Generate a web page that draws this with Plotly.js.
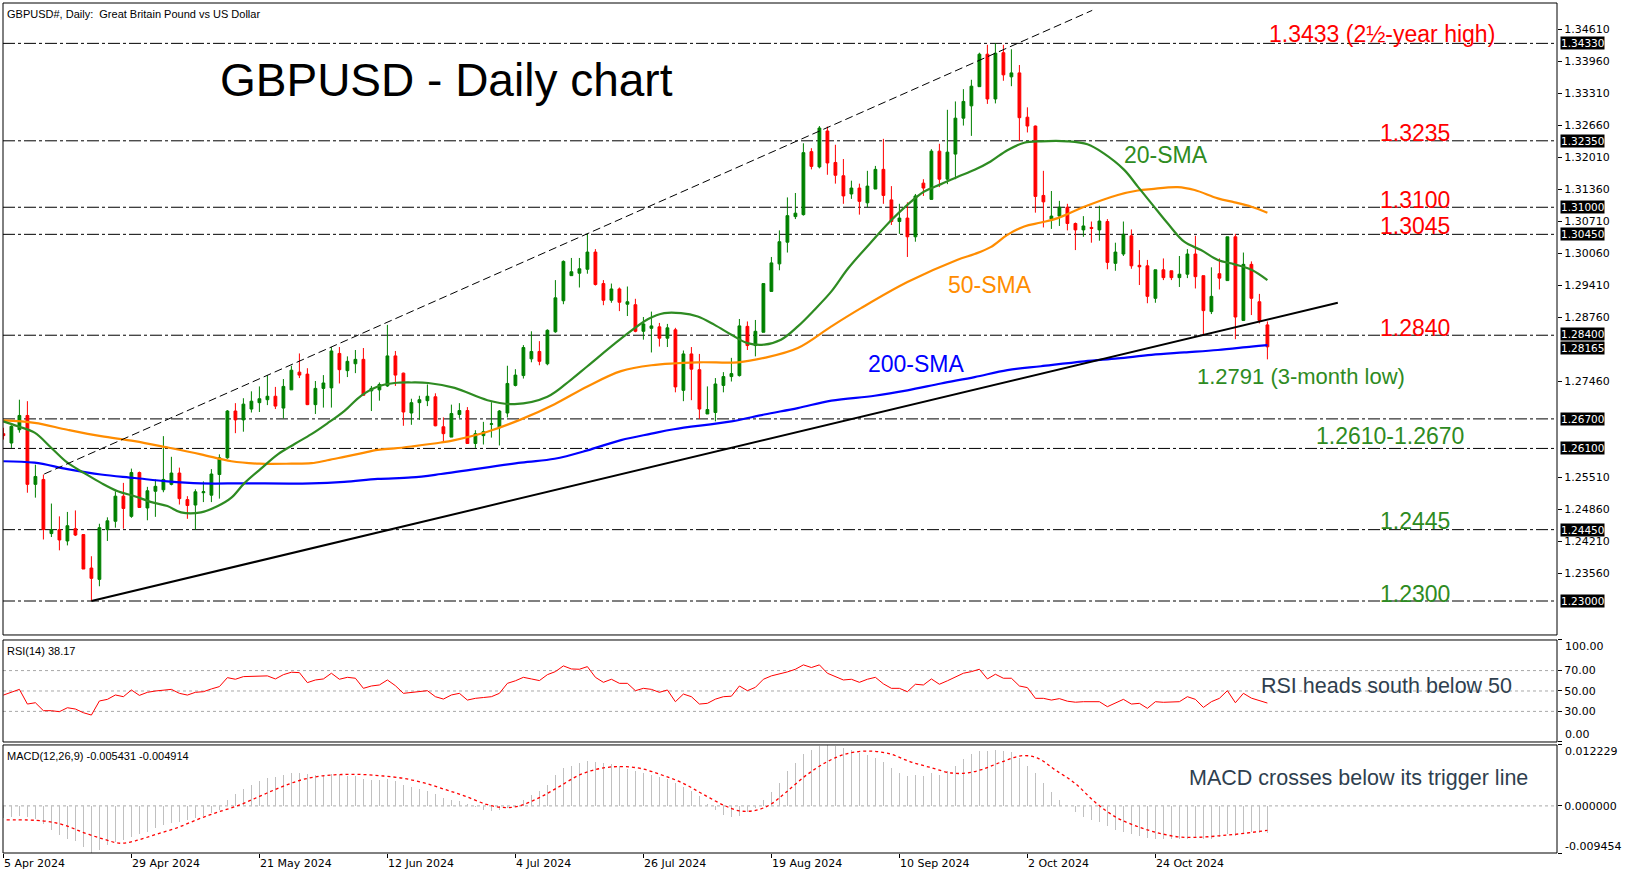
<!DOCTYPE html>
<html>
<head>
<meta charset="utf-8">
<script src="https://cdn.plot.ly/plotly-3.0.1.min.js"></script>
<style>
body { margin: 0; background: #fff; }
#chart { width: 1625px; height: 877px; }
</style>
</head>
<body>
<div id="chart"></div>
<script>
// GBPUSD daily bars, bar 0 = 5 Apr 2024, last bar = 13 Nov 2024
let open = [1.2640,1.2621,1.2648,1.2677,1.2537,1.2547,1.2437,1.2445,1.2422,1.2447,
1.2435,1.2367,1.2344,1.2445,1.2462,1.2513,1.2472,1.2561,1.2489,1.2523,
1.2526,1.2537,1.2560,1.2506,1.2495,1.2520,1.2515,1.2557,1.2591,1.2686,
1.2668,1.2690,1.2703,1.2709,1.2716,1.2692,1.2729,1.2765,1.2761,1.2699,
1.2732,1.2733,1.2803,1.2768,1.2782,1.2791,1.2727,1.2729,1.2737,1.2798,
1.2763,1.2682,1.2703,1.2707,1.2715,1.2654,1.2633,1.2679,1.2687,1.2620,
1.2636,1.2659,1.2652,1.2682,1.2738,1.2758,1.2792,1.2807,1.2782,1.2847,
1.2910,1.2961,1.2966,1.2974,1.3009,1.2945,1.2911,1.2934,1.2903,1.2902,
1.2848,1.2854,1.2857,1.2834,1.2851,1.2728,1.2802,1.2770,1.2680,1.2683,
1.2738,1.2756,1.2758,1.2858,1.2819,1.2846,1.2929,1.2985,1.3029,1.3081,
1.3085,1.3213,1.3182,1.3255,1.3191,1.3164,1.3127,1.3139,1.3109,1.3137,
1.3177,1.3115,1.3071,1.3078,1.3040,1.3149,1.3116,1.3214,1.3157,1.3208,
1.3281,1.3306,1.3345,1.3411,1.3320,1.3414,1.3365,1.3373,1.3283,1.3265,
1.3124,1.3076,1.3082,1.3100,1.3067,1.3054,1.3059,1.3054,1.3071,1.2986,
1.3005,1.3042,1.2982,1.2981,1.2915,1.2973,1.2971,1.2957,1.2964,1.3005,
1.2961,1.2888,1.2965,1.2951,1.3040,1.2870,1.2984,1.2908,1.2861]
let high = [1.2652,1.2657,1.2709,1.2706,1.2577,1.2557,1.2498,1.2472,1.2481,1.2484,
1.2436,1.2391,1.2457,1.2470,1.2523,1.2540,1.2569,1.2563,1.2532,1.2547,
1.2635,1.2593,1.2571,1.2513,1.2527,1.2543,1.2568,1.2598,1.2688,1.2702,
1.2712,1.2726,1.2736,1.2759,1.2735,1.2751,1.2778,1.2803,1.2773,1.2747,
1.2759,1.2816,1.2816,1.2797,1.2810,1.2814,1.2737,1.2744,1.2861,1.2808,
1.2764,1.2711,1.2717,1.2740,1.2722,1.2673,1.2699,1.2702,1.2694,1.2647,
1.2664,1.2704,1.2688,1.2778,1.2771,1.2820,1.2848,1.2828,1.2852,1.2952,
1.2992,1.2997,1.2997,1.3046,1.3015,1.2952,1.2945,1.2937,1.2939,1.2914,
1.2877,1.2888,1.2865,1.2863,1.2855,1.2809,1.2816,1.2802,1.2736,1.2753,
1.2765,1.2794,1.2873,1.2868,1.2871,1.2945,1.2999,1.3053,1.3120,1.3129,
1.3230,1.3220,1.3265,1.3264,1.3227,1.3198,1.3154,1.3148,1.3174,1.3184,
1.3239,1.3143,1.3107,1.3110,1.3127,1.3157,1.3218,1.3229,1.3298,1.3315,
1.3340,1.3359,1.3414,1.3430,1.3433,1.3430,1.3421,1.3389,1.3303,1.3266,
1.3174,1.3133,1.3113,1.3107,1.3069,1.3082,1.3071,1.3103,1.3076,1.3028,
1.3071,1.3055,1.3013,1.2993,1.2973,1.2996,1.2971,1.3001,1.3015,1.3042,
1.2961,1.2978,1.2996,1.3040,1.3046,1.3008,1.2990,1.2924,1.2868]
let low = [1.2628,1.2611,1.2642,1.2520,1.2510,1.2425,1.2430,1.2403,1.2413,1.2432,
1.2365,1.2300,1.2330,1.2422,1.2449,1.2447,1.2469,1.2490,1.2464,1.2471,
1.2521,1.2535,1.2496,1.2467,1.2445,1.2501,1.2501,1.2508,1.2589,1.2641,
1.2644,1.2683,1.2684,1.2698,1.2690,1.2671,1.2729,1.2753,1.2698,1.2680,
1.2693,1.2693,1.2742,1.2755,1.2763,1.2718,1.2686,1.2707,1.2735,1.2737,
1.2656,1.2658,1.2668,1.2696,1.2655,1.2623,1.2633,1.2672,1.2620,1.2611,
1.2618,1.2632,1.2616,1.2673,1.2736,1.2752,1.2785,1.2779,1.2779,1.2845,
1.2903,1.2961,1.2937,1.2965,1.2941,1.2901,1.2906,1.2889,1.2879,1.2846,
1.2831,1.2805,1.2817,1.2816,1.2724,1.2706,1.2708,1.2670,1.2680,1.2665,
1.2724,1.2746,1.2756,1.2810,1.2797,1.2846,1.2929,1.2972,1.3008,1.3076,
1.3083,1.3177,1.3179,1.3166,1.3148,1.3107,1.3117,1.3085,1.3100,1.3137,
1.3107,1.3064,1.3046,1.2999,1.3030,1.3123,1.3116,1.3141,1.3147,1.3157,
1.3266,1.3245,1.3345,1.3310,1.3311,1.3357,1.3346,1.3235,1.3252,1.3089,
1.3059,1.3056,1.3062,1.3053,1.3013,1.3040,1.3028,1.3032,1.2974,1.2971,
1.3001,1.2975,1.2942,1.2905,1.2906,1.2952,1.2952,1.2938,1.2956,1.2935,
1.2841,1.2883,1.2933,1.2951,1.2832,1.2870,1.2881,1.2864,1.2791]
let close = [1.2636,1.2655,1.2677,1.2537,1.2553,1.2445,1.2445,1.2424,1.2453,1.2434,
1.2365,1.2346,1.2449,1.2463,1.2513,1.2488,1.2561,1.2490,1.2524,1.2533,
1.2547,1.2560,1.2508,1.2494,1.2522,1.2522,1.2558,1.2591,1.2686,1.2668,
1.2700,1.2706,1.2711,1.2716,1.2696,1.2736,1.2769,1.2759,1.2699,1.2732,
1.2743,1.2808,1.2770,1.2787,1.2791,1.2718,1.2732,1.2740,1.2798,1.2759,
1.2684,1.2703,1.2709,1.2716,1.2656,1.2640,1.2681,1.2687,1.2620,1.2640,
1.2644,1.2660,1.2686,1.2742,1.2759,1.2815,1.2807,1.2787,1.2850,1.2916,
1.2990,1.2969,1.2975,1.3009,1.2943,1.2911,1.2934,1.2907,1.2908,1.2848,
1.2863,1.2859,1.2834,1.2855,1.2735,1.2802,1.2771,1.2690,1.2689,1.2741,
1.2756,1.2762,1.2859,1.2819,1.2848,1.2945,1.2987,1.3030,1.3083,1.3088,
1.3211,1.3183,1.3261,1.3190,1.3165,1.3123,1.3139,1.3112,1.3143,1.3177,
1.3124,1.3071,1.3078,1.3040,1.3123,1.3139,1.3214,1.3157,1.3212,1.3281,
1.3315,1.3346,1.3411,1.3320,1.3413,1.3369,1.3373,1.3282,1.3265,1.3122,
1.3111,1.3082,1.3100,1.3067,1.3054,1.3062,1.3057,1.3072,1.2988,1.3009,
1.3045,1.2981,1.2979,1.2919,1.2973,1.2957,1.2957,1.2964,1.3005,1.2959,
1.2890,1.2919,1.2956,1.3040,1.2877,1.2984,1.2915,1.2870,1.28165]

// moving averages at these bar positions
let sma20Bars = [0,1.8,3.9,6,8,10.1,12.2,14.3,16.4,18.5,20.5,22.2,24.7,26.8,28.5,30.1,32.2,34.3,36.4,38.5,40.5,42.6,44.7,46.8,48.9,51,53.1,56.4,60.5,63.9,68,70.9,73,77.2,80.6,82.6,84.7,86.8,88.9,91,93,95.1,97.2,99.3,101.4,103.5,105.6,108.9,111,113,115.1,117.2,119.3,121.4,123.4,125.5,127.6,129.7,133,135.5,137.5,140.1,141.8,143.5,145.5,147.6,149.7,151.8,153.9,156,158]
let sma20 = [1.2665,1.2655,1.2642,1.2611,1.2581,1.2560,1.2540,1.2523,1.2513,1.2501,1.2493,1.2480,1.2480,1.2493,1.2510,1.2539,1.2569,1.2598,1.2619,1.2639,1.2661,1.2686,1.2717,1.2736,1.2743,1.2744,1.2743,1.2733,1.2708,1.2700,1.2715,1.2749,1.2777,1.2833,1.2873,1.2885,1.2885,1.2878,1.2861,1.2841,1.2824,1.2821,1.2831,1.2858,1.2892,1.2929,1.2976,1.3037,1.3074,1.3105,1.3132,1.3147,1.3162,1.3176,1.3193,1.3216,1.3231,1.3234,1.3234,1.3228,1.3210,1.3176,1.3142,1.3108,1.3068,1.3030,1.3013,1.2993,1.2984,1.2973,1.2952]
let sma50Bars = [0,3.9,8,12.2,16.4,20.5,24.7,28.5,32,36,38.5,40.5,42.6,44.7,46.8,48.9,51,54.7,56.4,60.5,64.7,68.9,73,77.2,81,86.8,91.8,95.1,99.3,103.5,107.2,113,119.2,121.4,123.4,125.5,127.6,129.7,131.8,135.1,139.3,141.8,143.5,146.8,148.9,151.8,153.9,156,158]
let sma50 = [1.2667,1.2662,1.2648,1.2635,1.2625,1.2612,1.2598,1.2584,1.2579,1.2579,1.2580,1.2586,1.2593,1.2600,1.2607,1.2610,1.2614,1.2622,1.2627,1.2644,1.2669,1.2700,1.2736,1.2767,1.2779,1.2785,1.2785,1.2794,1.2814,1.2858,1.2895,1.2948,1.2993,1.3005,1.3019,1.3044,1.3061,1.3069,1.3078,1.3101,1.3125,1.3134,1.3137,1.3141,1.3135,1.3118,1.3110,1.3101,1.3089]
let sma200Bars = [0,3.9,8,12.2,16.4,20.5,24.7,30,38.5,42.6,46.8,51,54.7,64.7,68.9,73,77.2,81,83.8,91,95.1,99.3,103.5,108.9,113,117.2,121.4,125.5,129.7,135.1,139.3,143.5,147.6,151.8,156,158]
let sma200 = [1.2584,1.2581,1.2568,1.2557,1.2550,1.2543,1.2539,1.2539,1.2539,1.2542,1.2548,1.2551,1.2558,1.2581,1.2589,1.2606,1.2627,1.2640,1.2649,1.2665,1.2679,1.2692,1.2707,1.2717,1.2728,1.2742,1.2755,1.2769,1.2777,1.2787,1.2793,1.2800,1.2805,1.2810,1.2817,1.2820]

// RSI(14), one value per bar
let rsi = [46,49,51.6,37.2,38.5,30.7,30.7,29.7,33.6,32.3,
28.7,26.4,40.2,41.8,46.1,44.4,51,45.7,48.7,50,
50.8,51.6,47.7,46,48.7,49.3,52,54.3,63.1,61.5,
64.1,64.3,64.5,64.8,61.8,66,68.4,68,58.2,60.8,
61.8,67.4,61.5,63.4,62.5,52.6,54.9,55.9,60.8,55.2,
47.7,48.5,49.3,50.3,44.4,42.1,46.1,47.7,41.1,42.8,
43.6,44.4,47.7,57.5,60,63.4,61.8,60.2,66,69,
74.6,71.6,71.3,73.9,63.4,58.5,61.5,57.5,57.5,50.3,
52.6,51.6,48.7,51,39.5,47,44.4,37.2,37.9,42,
44.4,44.9,54.9,50.3,53.6,61.5,64.8,66.5,68.7,71.3,
75.6,73,75.6,67.4,64.1,60.8,61.5,58.5,61.5,63.4,
57,52.6,52.6,49.3,56.6,55.9,61.8,56.6,60,64.1,
67.4,69,71.3,61.8,66.4,62.5,62.5,54.9,53.3,42.8,
42.8,41.1,42.5,40,39,39.5,39.3,39.5,34.6,37.9,
41.8,37.2,37.9,33,39.5,38.9,38.9,39.5,44.4,41.8,
33.9,39.5,42.8,50.3,38.5,47.7,43,40.5,38.17]

// MACD(12,26,9) main line (histogram), in thousandths
let macdHist = [-2.4,-2.3,-2.0,-2.3,-2.6,-3.6,-4.9,-5.9,-6.6,-7.1,
-8.2,-9.454,-8.9,-7.9,-7.3,-6.9,-6.2,-5.7,-5.2,-4.4,
-3.8,-3.4,-3.2,-2.9,-2.4,-2.0,-1.5,-0.9,1.1,2.3,
3.4,4.2,5.0,5.5,5.8,6.2,6.6,6.6,6.4,6.3,
6.2,6.4,6.2,6.0,5.9,5.4,5.2,5.1,5.4,5.0,
4.2,3.8,3.4,3.0,2.4,1.6,1.2,0.9,0.3,-0.2,
-0.9,-1.0,-0.9,-0.5,0.1,1.1,2.1,3.0,4.2,6.2,
7.6,8.1,8.7,9.0,8.9,8.7,8.4,8.0,7.5,7.0,
6.6,6.3,5.8,5.4,4.5,3.8,3.0,1.9,0.3,-0.9,
-1.8,-2.3,-2.0,-1.3,-0.5,1.1,2.7,4.6,7.0,8.7,
10.5,11.2,12.0,12.229,12.0,11.6,11.2,10.7,10.2,9.7,
8.9,7.7,6.6,6.0,6.2,6.0,6.6,6.3,7.1,8.1,
9.5,10.5,11.1,11.0,11.2,11.0,10.9,9.7,8.1,6.6,
4.6,2.7,1.1,-0.1,-1.25,-2.3,-2.8,-3.2,-4.1,-4.8,
-5.2,-5.7,-6.1,-6.5,-6.6,-6.6,-6.7,-6.7,-6.6,-6.5,
-6.7,-6.6,-6.2,-5.7,-6.0,-5.4,-5.2,-5.4,-5.431]
let signalBars = [0.4,4.9,7.5,10.1,12.6,14.6,16.5,19.1,21.7,24.3,26.8,29.4,32,34.6,37.2,39.7,42.3,44.9,47.5,50.1,52.6,55.2,57.8,60.4,62.3,64.3,66.8,69.4,72,74.6,77.2,79.7,82.3,84.9,87.5,90.1,92,94,95.9,97.8,100.4,103,105.5,108.1,110.7,113.3,115.9,118.5,120.4,122.3,124.9,127.5,129.4,131.4,133.9,136.5,139.1,141.7,144.3,146.8,149.4,152,154.6,158]
let signal = [-2.8,-3.0,-3.8,-5.4,-6.7,-7.5,-7.0,-5.7,-4.4,-2.7,-1.25,0.1,1.9,3.7,5.2,6.0,6.3,6.3,6.0,5.5,4.6,3.3,1.9,0.3,-0.3,-0.1,1.5,3.8,6.2,7.5,7.9,7.5,6.2,4.6,2.3,0.1,-1.0,-0.9,0.3,2.7,6.2,8.9,10.5,11.0,10.5,8.9,7.7,6.6,6.6,7.3,8.9,10.1,9.5,7.3,4.6,0.7,-2.3,-4.1,-5.4,-6.2,-6.3,-6.0,-5.6,-4.914]

let levels = [1.3433, 1.3235, 1.3100, 1.3045, 1.2840, 1.2670, 1.2610, 1.2445, 1.2300]
let lastPrice = 1.28165
// scale labels that are not hidden behind the black level boxes
let priceTicks = [1.3461,1.3396,1.3331,1.3266,1.3201,1.3136,1.3071,1.3006,1.2941,1.2876,1.2746,1.2551,1.2486,1.2421,1.2356]
let rsiTicks = [0, 30, 50, 70, 100]
let macdTicks = [-0.009454, 0, 0.012229]
let dateBars = [0,16,32,48,64,80,96,112,128,144]
let dateLabels = ['5 Apr 2024','29 Apr 2024','21 May 2024','12 Jun 2024','4 Jul 2024','26 Jul 2024','19 Aug 2024','10 Sep 2024','2 Oct 2024','24 Oct 2024']

let bars = close.map((c, i) => i)
let tickFont = {family: 'DejaVu Sans', size: 11, color: '#000'}
let textFont = 'Liberation Sans, Arial, sans-serif'

let data = [
    {type: 'candlestick', x: bars, open: open, high: high, low: low, close: close,
     xaxis: 'x', yaxis: 'y', whiskerwidth: 0, hoverinfo: 'skip',
     increasing: {line: {color: '#008000', width: 1}, fillcolor: '#008000'},
     decreasing: {line: {color: '#FF0000', width: 1}, fillcolor: '#FF0000'}},
    {type: 'scatter', mode: 'lines', x: sma200Bars, y: sma200, yaxis: 'y',
     line: {color: '#0000FF', width: 2.2, shape: 'spline'}},
    {type: 'scatter', mode: 'lines', x: sma50Bars, y: sma50, yaxis: 'y',
     line: {color: '#FF8C00', width: 2.2, shape: 'spline'}},
    {type: 'scatter', mode: 'lines', x: sma20Bars, y: sma20, yaxis: 'y',
     line: {color: '#2E8B22', width: 2.2, shape: 'spline'}},
    {type: 'scatter', mode: 'lines', x: bars, y: rsi, yaxis: 'y2',
     line: {color: '#FF0000', width: 1}},
    {type: 'bar', x: bars, y: macdHist.map(v => v / 1000), yaxis: 'y3', width: 0.14,
     marker: {color: '#C0C0C0', line: {width: 0}}},
    {type: 'scatter', mode: 'lines', x: signalBars, y: signal.map(v => v / 1000), yaxis: 'y3',
     line: {color: '#FF0000', width: 1.3, dash: 'dot', shape: 'spline'}}
]

let shapes = []
// panel frames
let frames = [[0.2565, 1], [0.1306, 0.2506], [0, 0.1271]]
frames.forEach(f => {
    shapes.push({type: 'rect', xref: 'paper', yref: 'paper', x0: 0, x1: 1, y0: f[0], y1: f[1],
        line: {color: '#000', width: 1}, layer: 'above'})
})
levels.forEach(l => {
    shapes.push({type: 'line', xref: 'paper', yref: 'y', x0: 0, x1: 1, y0: l, y1: l,
        line: {color: '#000', width: 1, dash: '12px,3px,3px,3px'}, layer: 'below'})
})
// support trendline and upper channel line
shapes.push({type: 'line', xref: 'x', yref: 'y', x0: 11, y0: 1.2300, x1: 166.8, y1: 1.2906,
    line: {color: '#000', width: 2}})
shapes.push({type: 'line', xref: 'x', yref: 'y', x0: 5.1, y0: 1.2558, x1: 136.1, y1: 1.3500,
    line: {color: '#000', width: 1, dash: '8px,4px'}})
;[30, 50, 70].forEach(l => {
    shapes.push({type: 'line', xref: 'paper', yref: 'y2', x0: 0, x1: 1, y0: l, y1: l,
        line: {color: '#A8A8A8', width: 1, dash: 'dot'}, layer: 'below'})
})
shapes.push({type: 'line', xref: 'paper', yref: 'y3', x0: 0, x1: 1, y0: 0, y1: 0,
    line: {color: '#A8A8A8', width: 1, dash: 'dot'}, layer: 'below'})

let annotations = []
// black price boxes on the right axis (1.28165 is drawn last, over 1.28400)
levels.concat([lastPrice]).forEach(l => {
    annotations.push({xref: 'paper', yref: 'y', x: 1, y: l, xanchor: 'left', xshift: 3,
        yshift: l === lastPrice ? -1 : (l === 1.284 ? 1 : 0),
        text: l.toFixed(5), showarrow: false, bgcolor: '#000', borderpad: 0,
        font: {family: 'DejaVu Sans', size: 10.5, color: '#fff'}})
})

// end labels of the indicator scales sit just inside their panels
function edgeLabel(text, yref, y, shift) {
    annotations.push({xref: 'paper', yref: yref, x: 1, y: y, xanchor: 'left', yanchor: 'middle',
        xshift: 6, yshift: shift, text: text, showarrow: false, font: tickFont})
}
edgeLabel('100.00', 'y2', 100, -7)
edgeLabel('0.00', 'y2', 0, 7)
edgeLabel('0.012229', 'y3', 0.012229, -7)
edgeLabel('-0.009454', 'y3', -0.009454, 7)

function note(text, x, y, size, color) {
    annotations.push({xref: 'paper', yref: 'paper', x: x, y: y, xanchor: 'left', yanchor: 'middle',
        text: text, showarrow: false, font: {family: textFont, size: size, color: color}})
}
note('GBPUSD - Daily chart', 0.1384, 0.9094, 46, '#000')
note('1.3433 (2½-year high)', 0.8131, 0.9633, 23, '#FF0000')
note('1.3235', 0.8851, 0.8474, 23, '#FF0000')
note('1.3100', 0.8851, 0.7682, 23, '#FF0000')
note('1.3045', 0.8851, 0.7376, 23, '#FF0000')
note('1.2840', 0.8851, 0.6182, 23, '#FF0000')
note('1.2791 (3-month low)', 0.7671, 0.5609, 22, '#2E8B22')
note('1.2610-1.2670', 0.8438, 0.4902, 23, '#2E8B22')
note('1.2445', 0.8851, 0.3902, 23, '#2E8B22')
note('1.2300', 0.8851, 0.3048, 23, '#2E8B22')
note('20-SMA', 0.7203, 0.8206, 23, '#2E8B22')
note('50-SMA', 0.6070, 0.6682, 23, '#FF8C00')
note('200-SMA', 0.5556, 0.5755, 23, '#0000FF')
note('RSI heads south below 50', 0.8082, 0.1965, 21.5, '#2F3F4F')
note('MACD crosses below its trigger line', 0.7617, 0.0879, 21.5, '#2F3F4F')
note('GBPUSD#, Daily:  Great Britain Pound vs US Dollar', 0.001, 0.9875, 11, '#000')
note('RSI(14) 38.17', 0.001, 0.2376, 11, '#000')
note('MACD(12,26,9) -0.005431 -0.004914', 0.001, 0.1141, 11, '#000')

let layout = {
    width: 1625, height: 877,
    margin: {l: 3, r: 68, t: 3, b: 24},
    paper_bgcolor: '#fff', plot_bgcolor: '#fff',
    showlegend: false, hovermode: false, boxgap: 0.5, bargap: 0,
    xaxis: {domain: [0, 1], anchor: 'y3', range: [-0.05, 194.2], showgrid: false, zeroline: false,
        tickvals: dateBars, ticktext: dateLabels, ticks: 'outside', ticklen: 4, tickcolor: '#000',
        ticklabelposition: 'outside right', tickfont: tickFont, rangeslider: {visible: false}},
    yaxis: {domain: [0.2565, 1], anchor: 'x', side: 'right', range: [1.2231, 1.3515],
        tickvals: priceTicks, ticktext: priceTicks.map(v => v.toFixed(5)),
        ticks: 'outside', ticklen: 4, tickcolor: '#000', tickfont: tickFont,
        showgrid: false, zeroline: false},
    yaxis2: {domain: [0.1306, 0.2506], anchor: 'x', side: 'right', range: [0, 100],
        tickvals: rsiTicks, ticktext: rsiTicks.map(v => (v > 0 && v < 100) ? v.toFixed(2) : ''),
        ticks: 'outside', ticklen: 4, tickcolor: '#000', tickfont: tickFont,
        showgrid: false, zeroline: false},
    yaxis3: {domain: [0, 0.1271], anchor: 'x', side: 'right', range: [-0.009454, 0.012229],
        tickvals: macdTicks, ticktext: macdTicks.map(v => v === 0 ? '0.000000' : ''),
        ticks: 'outside', ticklen: 4, tickcolor: '#000', tickfont: tickFont,
        showgrid: false, zeroline: false},
    shapes: shapes,
    annotations: annotations
}

Plotly.newPlot('chart', data, layout, {staticPlot: true})
</script>
</body>
</html>
